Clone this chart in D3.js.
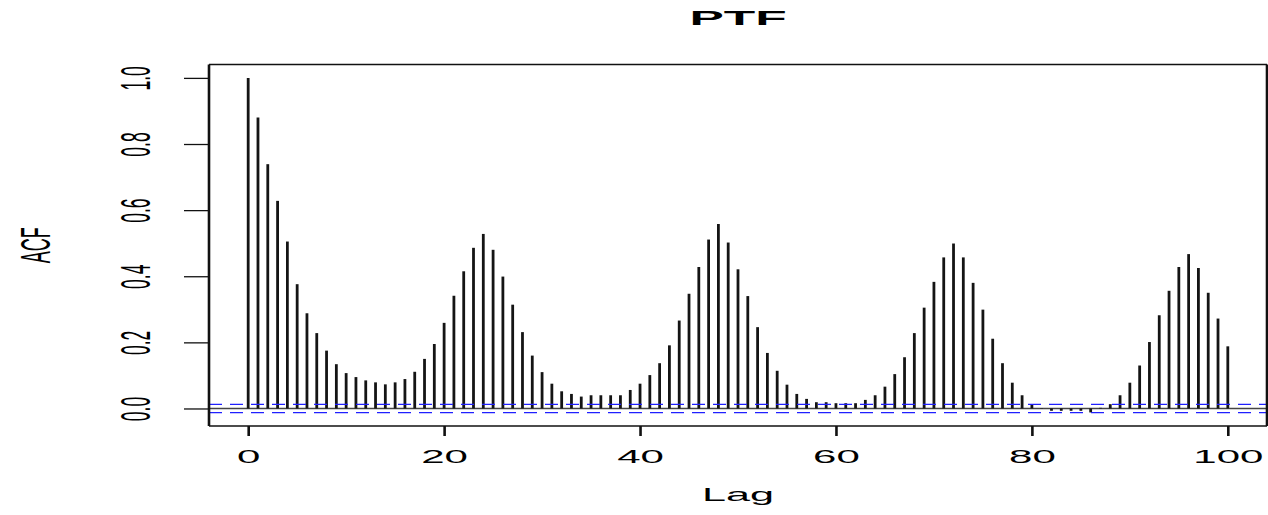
<!DOCTYPE html>
<html>
<head>
<meta charset="utf-8">
<script src="https://cdn.jsdelivr.net/npm/d3@7"></script>
<style>
  html, body { margin: 0; padding: 0; background: #fff; }
  svg { display: block; }
  text { font-family: "Liberation Sans", Arial, sans-serif; fill: #000; }
</style>
</head>
<body>
<svg id="chart" width="1268" height="515"></svg>
<script>
(function() {
  'use strict';

  // lag 0..100, ACF
  var lags = d3.range(0, 101);
  var acf = [
    1.000, 0.880, 0.739, 0.628, 0.505, 0.376, 0.288, 0.228, 0.175, 0.134,
    0.107, 0.095, 0.085, 0.079, 0.073, 0.079, 0.089, 0.111, 0.150, 0.195,
    0.259, 0.341, 0.415, 0.486, 0.528, 0.480, 0.399, 0.314, 0.231, 0.160,
    0.110, 0.075, 0.052, 0.044, 0.036, 0.040, 0.040, 0.040, 0.040, 0.056,
    0.075, 0.101, 0.137, 0.191, 0.266, 0.347, 0.428, 0.511, 0.558, 0.502,
    0.421, 0.340, 0.246, 0.168, 0.114, 0.072, 0.044, 0.029, 0.019, 0.019,
    0.016, 0.016, 0.016, 0.026, 0.040, 0.066, 0.104, 0.155, 0.228, 0.305,
    0.383, 0.457, 0.499, 0.457, 0.380, 0.299, 0.211, 0.137, 0.078, 0.040,
    0.013, 0.001, -0.007, -0.007, -0.007, -0.007, -0.012, 0.002, 0.013, 0.040,
    0.078, 0.130, 0.201, 0.282, 0.356, 0.428, 0.467, 0.425, 0.350, 0.272,
    0.188
  ];
  var ciBound = 0.0125;
  var xTicks = [0, 20, 40, 60, 80, 100];
  var yTicks = [0.0, 0.2, 0.4, 0.6, 0.8, 1.0];
  var title = 'PTF';
  var xLabel = 'Lag';
  var yLabel = 'ACF';

  // the picture is stretched sideways, so text gets squashed the same way
  var sx = 2.4;

  var plot = { left: 209, right: 1267, top: 64.5, bottom: 426 };

  // R style: pad range by 4%
  function pad(ext) {
    var d = (ext[1] - ext[0]) * 0.04;
    return [ext[0] - d, ext[1] + d];
  }

  var yExt = d3.extent(acf.concat([-ciBound, ciBound]));
  var x = d3.scaleLinear().domain(pad(d3.extent(lags))).range([plot.left, plot.right]);
  var y = d3.scaleLinear().domain(pad(yExt)).range([plot.bottom, plot.top]);

  var svg = d3.select('#chart');

  // zero line
  svg.append('line')
    .attr('x1', plot.left).attr('x2', plot.right)
    .attr('y1', y(0)).attr('y2', y(0))
    .attr('stroke', '#444').attr('stroke-width', 1.3);

  // spikes
  svg.append('g').selectAll('line')
    .data(lags)
    .enter().append('line')
    .attr('x1', function(d) { return x(d); })
    .attr('x2', function(d) { return x(d); })
    .attr('y1', y(0))
    .attr('y2', function(d) { return y(acf[d]); })
    .attr('stroke', '#141414')
    .attr('stroke-width', 2.8);

  // confidence bounds
  svg.append('g').selectAll('line')
    .data([ciBound, -ciBound])
    .enter().append('line')
    .attr('x1', plot.left).attr('x2', plot.right)
    .attr('y1', function(d) { return y(d); })
    .attr('y2', function(d) { return y(d); })
    .attr('stroke', '#2020ff')
    .attr('stroke-width', 1.3)
    .attr('stroke-dasharray', '13,8');

  // box
  var box = svg.append('g').attr('stroke', '#111');
  box.append('line').attr('x1', plot.left).attr('x2', plot.right)
    .attr('y1', plot.top).attr('y2', plot.top).attr('stroke-width', 1.4);
  box.append('line').attr('x1', plot.left).attr('x2', plot.right)
    .attr('y1', plot.bottom).attr('y2', plot.bottom).attr('stroke-width', 1.4);
  box.append('line').attr('x1', plot.left).attr('x2', plot.left)
    .attr('y1', plot.top).attr('y2', plot.bottom).attr('stroke-width', 2.6);
  box.append('line').attr('x1', plot.right).attr('x2', plot.right)
    .attr('y1', plot.top).attr('y2', plot.bottom).attr('stroke-width', 2.6);

  // x axis
  var gx = svg.append('g')
    .attr('transform', 'translate(0,' + plot.bottom + ')')
    .call(d3.axisBottom(x).tickValues(xTicks).tickSize(10).tickSizeOuter(0).tickFormat(d3.format('d')));
  gx.select('.domain').remove();
  gx.selectAll('.tick line').attr('stroke', '#111').attr('stroke-width', 2.6);
  gx.selectAll('.tick text')
    .attr('y', null).attr('dy', null)
    .attr('font-size', 17.5)
    .attr('font-family', null)
    .attr('text-anchor', 'middle')
    .attr('transform', 'translate(0,37) scale(' + sx + ',1)');

  // y axis
  var gy = svg.append('g')
    .attr('transform', 'translate(' + plot.left + ',0)')
    .call(d3.axisLeft(y).tickValues(yTicks).tickSize(25).tickSizeOuter(0).tickFormat(d3.format('.1f')));
  gy.select('.domain').remove();
  gy.selectAll('.tick line').attr('stroke', '#111').attr('stroke-width', 1.3);
  gy.selectAll('.tick text')
    .attr('x', null).attr('dy', null)
    .attr('font-size', 17.5)
    .attr('font-family', null)
    .attr('text-anchor', 'middle')
    .attr('transform', 'translate(' + (150 - plot.left) + ',0) scale(' + sx + ',1) rotate(-90)');

  // title and axis labels
  svg.append('text')
    .attr('text-anchor', 'middle')
    .attr('font-weight', 'bold')
    .attr('font-size', 21)
    .attr('transform', 'translate(' + ((plot.left + plot.right) / 2) + ',25) scale(2.45,1)')
    .text(title);

  svg.append('text')
    .attr('text-anchor', 'middle')
    .attr('font-size', 18)
    .attr('transform', 'translate(' + ((plot.left + plot.right) / 2) + ',501) scale(' + sx + ',1)')
    .text(xLabel);

  svg.append('text')
    .attr('text-anchor', 'middle')
    .attr('font-size', 18)
    .attr('transform', 'translate(50,' + ((plot.top + plot.bottom) / 2) + ') scale(' + sx + ',1) rotate(-90)')
    .text(yLabel);
})();
</script>
</body>
</html>
